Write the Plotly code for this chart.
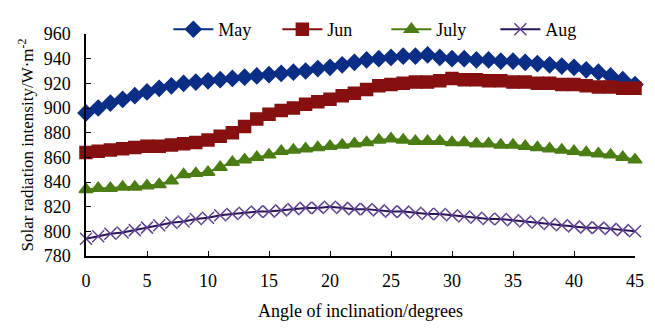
import plotly.graph_objects as go

angles = list(range(0, 46))
may = [896, 900, 904, 907, 910, 913, 916, 918, 920, 921, 922, 923, 924, 925, 926, 927,
       928, 929, 930, 932, 933, 935, 937, 939, 940, 941, 942, 942, 943, 941, 940, 940,
       939, 939, 938, 938, 937, 936, 935, 934, 933, 931, 929, 926, 923, 919]
jun = [864, 865, 866, 867, 868, 869, 869, 870, 871, 872, 874, 877, 880, 885, 891, 895,
       898, 900, 903, 905, 907, 910, 912, 915, 918, 919, 920, 921, 921, 922, 924, 923,
       923, 922, 922, 921, 921, 920, 920, 919, 919, 918, 917, 917, 916, 916]
july = [834, 835, 835, 836, 836, 837, 838, 841, 846, 847, 848, 852, 856, 858, 860, 862,
        865, 866, 867, 868, 869, 870, 871, 872, 874, 875, 874, 873, 873, 873, 872, 872,
        871, 871, 870, 870, 869, 868, 867, 866, 865, 864, 863, 862, 860, 858]
aug = [794, 796, 798, 799, 801, 803, 805, 807, 808, 810, 811, 813, 814, 815, 816, 816,
       817, 818, 819, 819, 820, 819, 818, 818, 817, 816, 816, 815, 814, 814, 813, 812,
       811, 810, 810, 809, 808, 807, 806, 805, 804, 803, 803, 802, 801, 800]

series = [
    ("May", may, "#0a2d86", "diamond", 12, "#0a2d86"),
    ("Jun", jun, "#860f0f", "square", 12, "#860f0f"),
    ("July", july, "#4b7d14", "triangle-up", 12, "#4b7d14"),
    ("Aug", aug, "#2a1358", "x-thin-open", 12, "#5f4290"),
]

fig = go.Figure()
for name, vals, lc, sym, sz, mc in series:
    fig.add_trace(go.Scatter(
        x=angles, y=vals, name=name, mode="lines+markers",
        line=dict(color=lc, width=2),
        marker=dict(symbol=sym, size=sz, color=mc,
                    line=dict(color=mc, width=1.5)),
        cliponaxis=False,
    ))

font = "Liberation Serif, Times New Roman, serif"
fig.update_layout(
    width=655, height=329,
    margin=dict(l=86, r=11, t=22, b=71),
    paper_bgcolor="white", plot_bgcolor="white",
    font=dict(family=font, size=18, color="black"),
    showlegend=True,
    legend=dict(orientation="h", x=0.15, y=1.02, xanchor="left", yanchor="middle",
                font=dict(size=18, family=font), bgcolor="rgba(0,0,0,0)",
                entrywidth=54, entrywidthmode="pixels", itemwidth=40),
    xaxis=dict(range=[0, 45], tickvals=[0, 5, 10, 15, 20, 25, 30, 35, 40, 45],
               ticks="inside", ticklen=5, tickcolor="black", showline=True,
               linecolor="black", linewidth=1.5, showgrid=False, zeroline=False,
               ticklabelstandoff=8,
               title=dict(text="Angle of inclination/degrees", standoff=14,
                          font=dict(size=18)),
               tickfont=dict(size=18)),
    yaxis=dict(range=[780, 960], tickvals=list(range(780, 961, 20)),
               ticks="inside", ticklen=5, tickcolor="black", showline=True,
               linecolor="black", linewidth=1.5, showgrid=False, zeroline=False,
               ticklabelstandoff=10,
               title=dict(text="Solar radiation intensity/W·m<sup>-2</sup>", standoff=6,
                          font=dict(size=17)),
               tickfont=dict(size=18)),
)

fig.write_html("out.html")
